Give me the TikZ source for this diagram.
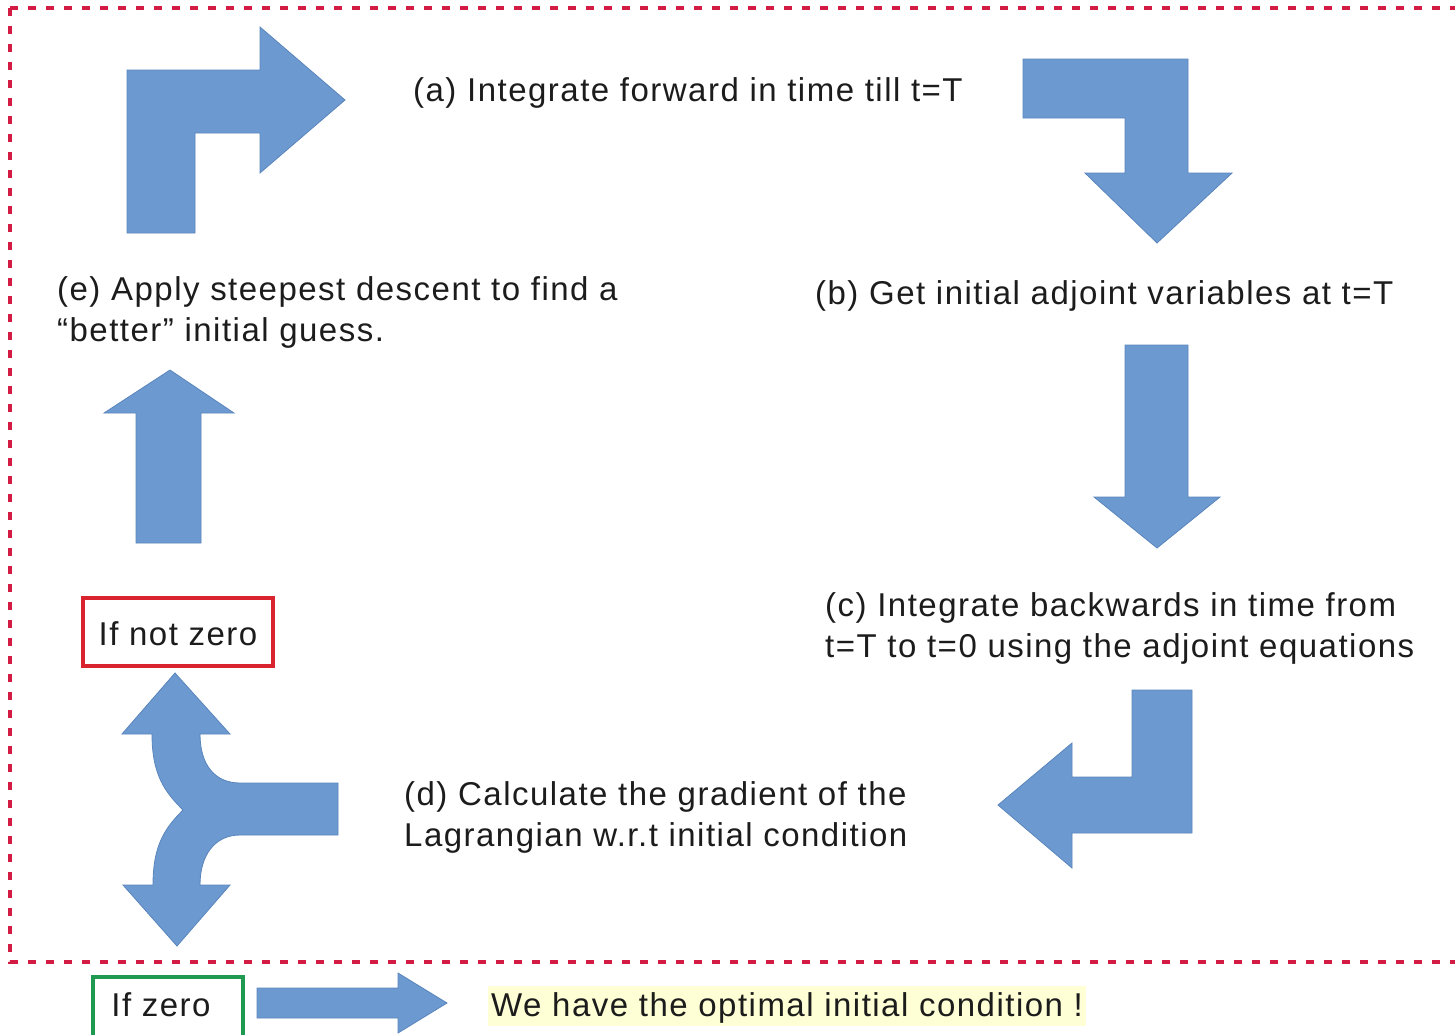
\documentclass[tikz,border=0pt]{standalone}
\usepackage{fontspec}
\newfontfamily\lblfont[LetterSpace=4.5]{Liberation Sans}
\definecolor{arrowfill}{HTML}{6C9AD0}
\definecolor{arrowedge}{HTML}{5A85BC}
\definecolor{framered}{HTML}{D21C44}
\definecolor{boxred}{HTML}{D9232E}
\definecolor{boxgreen}{HTML}{1F9A50}
\definecolor{hilite}{HTML}{FFFFD6}
\definecolor{ink}{HTML}{1C1C1C}
\begin{document}
\begin{tikzpicture}[x=1pt,y=-1pt,
  blockarrow/.style={fill=arrowfill,draw=arrowedge,line width=0.8pt,line join=miter},
  frame/.style={draw=framered,line width=3.2pt,dash pattern=on 8pt off 10pt},
  lbl/.style={font=\lblfont\fontsize{33}{40}\selectfont,text=ink,inner sep=0pt,anchor=base west},
  tagbox/.style={font=\lblfont\fontsize{33}{40}\selectfont,text=ink,inner sep=0pt,anchor=base,line width=3.5pt}]
\useasboundingbox (0,0) rectangle (1455,1034);

% dashed frame around the iteration loop
\draw[frame] (10,8) rectangle (1490,962);

% bent arrow into step (a)
\path[blockarrow] (127,233) -- (127,70) -- (260,70) -- (260,27) -- (345,100)
  -- (260,173) -- (260,133) -- (195,133) -- (195,233) -- cycle;
% bent arrow from (a) down to (b)
\path[blockarrow] (1023,59) -- (1188,59) -- (1188,173) -- (1232,173) -- (1157,243)
  -- (1085,173) -- (1125,173) -- (1125,118) -- (1023,118) -- cycle;
% straight arrow from (b) down to (c)
\path[blockarrow] (1125,345) -- (1188,345) -- (1188,497) -- (1220,497) -- (1157,548)
  -- (1094,497) -- (1125,497) -- cycle;
% bent arrow from (c) left to (d)
\path[blockarrow] (1132,690) -- (1192,690) -- (1192,833) -- (1072,833) -- (1072,868)
  -- (998,805) -- (1072,743) -- (1072,777) -- (1132,777) -- cycle;
% arrow up to step (e)
\path[blockarrow] (136,543) -- (136,413) -- (104,413) -- (170,370) -- (234,413)
  -- (201,413) -- (201,543) -- cycle;
% forked arrow after step (d)
\path[blockarrow] (175,673) -- (230,734) -- (200,734)
  .. controls (200,765) and (215,783) .. (240,783) -- (338,783) -- (338,835) -- (240,835)
  .. controls (215,835) and (200,855) .. (200,885) -- (230,885) -- (177,946) -- (123,885)
  -- (153,885) .. controls (153,845) and (165,828) .. (183,810)
  .. controls (165,792) and (152,775) .. (152,734) -- (122,734) -- cycle;
% arrow to the final result
\path[blockarrow] (257,988) -- (398,988) -- (398,973) -- (447,1003) -- (398,1033)
  -- (398,1018) -- (257,1018) -- cycle;

% step labels
\node[lbl] (a) at (413,101) {(a) Integrate forward in time till t=T};
\node[lbl] (b) at (815,304) {(b) Get initial adjoint variables at t=T};
\node[lbl] (c1) at (825,616) {(c) Integrate backwards in time from};
\node[lbl] (c2) at (825,657) {t=T to t=0 using the adjoint equations};
\node[lbl] (d1) at (404,805) {(d) Calculate the gradient of the};
\node[lbl] (d2) at (404,846) {Lagrangian w.r.t initial condition};
\node[lbl] (e1) at (57,300) {(e) Apply steepest descent to find a};
\node[lbl] (e2) at (57,341) {“better” initial guess.};

% decision tags
\node[tagbox,draw=boxred,minimum width=190pt,text height=47pt,text depth=21pt]
  (nz) at (178,645) {If not zero};
\node[tagbox,draw=boxgreen,minimum width=150pt,text height=39pt,text depth=26pt]
  (z) at (168,1016) {If zero\hspace*{14pt}};

% result
\node[lbl,fill=hilite,inner xsep=3pt,text height=30pt,text depth=10pt]
  (res) at (488,1016) {We have the optimal initial condition !};
\end{tikzpicture}
\end{document}
